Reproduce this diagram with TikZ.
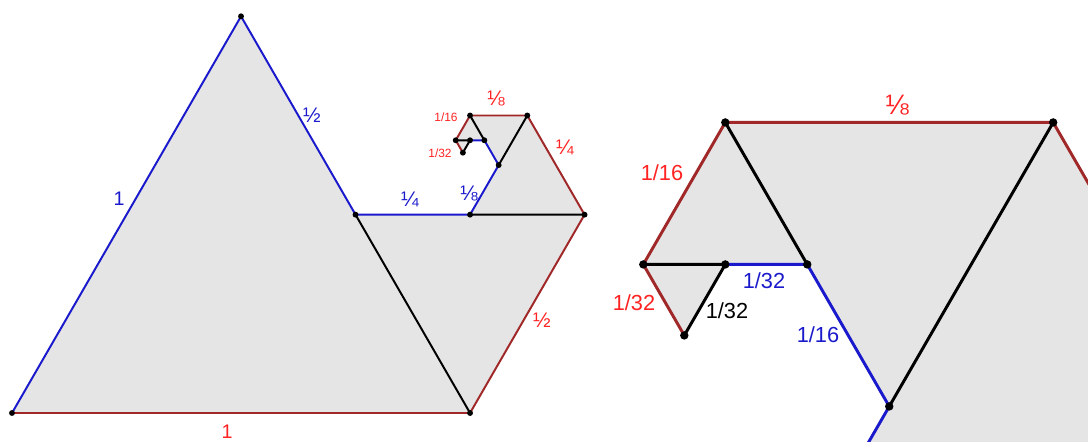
\documentclass[tikz,border=0pt]{standalone}
\usepackage{fontspec}
\setmainfont{Liberation Sans}
\usepackage{tikz}
\usetikzlibrary{positioning,calc}
\usepackage{xcolor}
\definecolor{lineblue}{HTML}{1A1ACC}
\definecolor{linered}{HTML}{A02828}
\definecolor{labelred}{HTML}{FF2222}
\definecolor{shapefill}{HTML}{E5E5E5}

\tikzset{
  dot/.style={circle, fill=black, inner sep=0pt},
  biglbl/.style={font=\fontsize{14}{16}\selectfont},
  fraclbl/.style={font=\fontsize{15}{17}\selectfont},
  smalllbl/.style={font=\fontsize{8.5}{10}\selectfont},
  zoomlbl/.style={font=\fontsize{15.5}{18}\selectfont},
  zoomfrac/.style={font=\fontsize{20}{22}\selectfont},
}

% spiral of halving triangles, side 8
\newcommand{\drawspiral}[2]{%
  \coordinate (a) at (0,0);
  \coordinate (b) at (8,0);
  \coordinate (c) at (4,6.9282);
  \coordinate (d) at (6,3.4641);
  \coordinate (e) at (8,3.4641);
  \coordinate (f) at (8.5,4.33013);
  \coordinate (g) at (10,3.4641);
  \coordinate (h) at (9,5.19615);
  \coordinate (i) at (8,5.19615);
  \coordinate (j) at (8.25,4.76314);
  \coordinate (k) at (7.75,4.76314);
  \coordinate (l) at (8,4.76314);
  \coordinate (m) at (7.875,4.54663);
  \fill[shapefill] (a) -- (c) -- (d) -- (e) -- (f) -- (j) -- (l) -- (m) -- (k) -- (i) -- (h) -- (g) -- (b) -- cycle;
  \draw[line width=#1, lineblue] (a) -- (c) -- (d) -- (e) -- (f) -- (j) -- (l);
  \draw[line width=#1, linered] (a) -- (b) -- (g) -- (h) -- (i) -- (k) -- (m);
  \draw[line width=#1] (d) -- (b) (e) -- (g) (f) -- (h) (j) -- (i) (k) -- (l) -- (m);
  \foreach \p in {a,...,m} {
    \node[dot, minimum size=#2] (dot-\p) at (\p) {};
  }
}

\begin{document}
\begin{tikzpicture}
    \useasboundingbox (0,0) rectangle (27.2,11.025);

    % full spiral
    \begin{scope}[shift={(0.3,0.7)}, scale=1.43125]
        \drawspiral{1.4pt}{4.2pt}
    \end{scope}
    \node[biglbl, lineblue] (b1) at (2.975,6.05) {1};
    \node[fraclbl, lineblue] (b2) at (7.8,8.15) {½};
    \node[fraclbl, lineblue] (b4) at (10.25,6.05) {¼};
    \node[fraclbl, lineblue] (b8) at (11.72,6.2) {⅛};
    \node[biglbl, labelred] (r1) at (5.675,0.22) {1};
    \node[fraclbl, labelred] (r2) at (13.55,3.025) {½};
    \node[fraclbl, labelred] (r4) at (14.125,7.35) {¼};
    \node[fraclbl, labelred] (r8) at (12.4,8.575) {⅛};
    \node[smalllbl, labelred] (r16) at (11.15,8.1) {1/16};
    \node[smalllbl, labelred] (r32) at (11.0,7.2) {1/32};

    % zoomed detail
    \begin{scope}
        \clip (15,0) rectangle (27.2,11.025);
        \begin{scope}[shift={(-47.45,-34.633)}, scale=8.2]
            \drawspiral{2.1pt}{6pt}
        \end{scope}
    \end{scope}
    \node[zoomfrac, labelred] (zr8) at (22.425,8.4) {⅛};
    \node[zoomlbl, labelred] (zr16) at (16.55,6.7) {1/16};
    \node[zoomlbl, labelred] (zr32) at (15.85,3.45) {1/32};
    \node[zoomlbl, black] (zk32) at (18.175,3.25) {1/32};
    \node[zoomlbl, lineblue] (zb32) at (19.1,4.0) {1/32};
    \node[zoomlbl, lineblue] (zb16) at (20.45,2.65) {1/16};
\end{tikzpicture}
\end{document}
